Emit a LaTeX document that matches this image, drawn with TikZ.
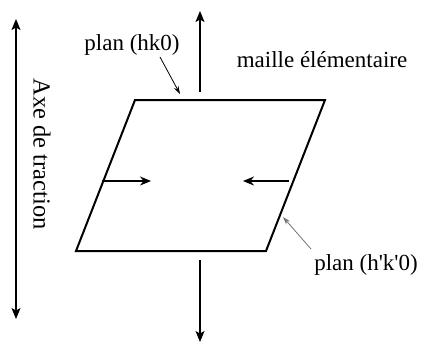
\documentclass[tikz,border=0pt]{standalone}
\usepackage{fontspec}
\setmainfont{Liberation Serif}
\usetikzlibrary{arrows.meta}
\begin{document}
\begin{tikzpicture}[x=1pt,y=-1pt,
  lbl/.style={inner sep=0pt,font=\fontsize{23}{27}\selectfont},
  axis/.style={line width=1.4pt,{Stealth[length=11pt,width=9pt,inset=2.5pt]}-{Stealth[length=11pt,width=9pt,inset=2.5pt]}},
  pull/.style={line width=1.4pt,-{Stealth[length=11pt,width=9pt,inset=2.5pt]}},
  push/.style={line width=1.2pt,-{Stealth[length=11pt,width=9pt,inset=3.5pt]}},
  pointer/.style={line width=0.8pt,-{Stealth[length=8pt,width=5pt]}},
  cell/.style={line width=2pt,line join=miter}]
\useasboundingbox (0,0) rectangle (423,346);
% parallelogram
\coordinate (tl) at (135,100);
\coordinate (tr) at (325,100);
\coordinate (br) at (266,251);
\coordinate (bl) at (76,251);
\draw[cell] (tl) -- (tr) -- (br) -- (bl) -- cycle;
% traction axis at left
\coordinate (axtop) at (16,19);
\coordinate (axbot) at (16,319);
\draw[axis] (axtop) -- (axbot);
\node[lbl,rotate=-90,font=\fontsize{24.5}{28}\selectfont] (axe) at (42,154) {Axe de traction};
% vertical pull arrows
\coordinate (upst) at (200,92);
\coordinate (uptip) at (200,11);
\draw[pull] (upst) -- (uptip);
\coordinate (dnst) at (200,260);
\coordinate (dntip) at (200,342);
\draw[pull] (dnst) -- (dntip);
% horizontal arrows
\coordinate (lst) at (102,181);
\coordinate (ltip) at (151,181);
\draw[push] (lst) -- (ltip);
\coordinate (rst) at (289,181);
\coordinate (rtip) at (243,181);
\draw[push] (rst) -- (rtip);
% labels
\node[lbl] (hk) at (132,45) {plan (hk0)};
\node[lbl] (maille) at (322,60) {maille élémentaire};
\node[lbl] (hpk) at (366,265) {plan (h\textquotesingle k\textquotesingle 0)};
% pointers
\coordinate (hkst) at (160,57);
\coordinate (hktip) at (180,94);
\draw[pointer] (hkst) -- (hktip);
\coordinate (hpst) at (311,249);
\coordinate (hptip) at (283,217);
\draw[pointer,black!55] (hpst) -- (hptip);
\end{tikzpicture}
\end{document}
